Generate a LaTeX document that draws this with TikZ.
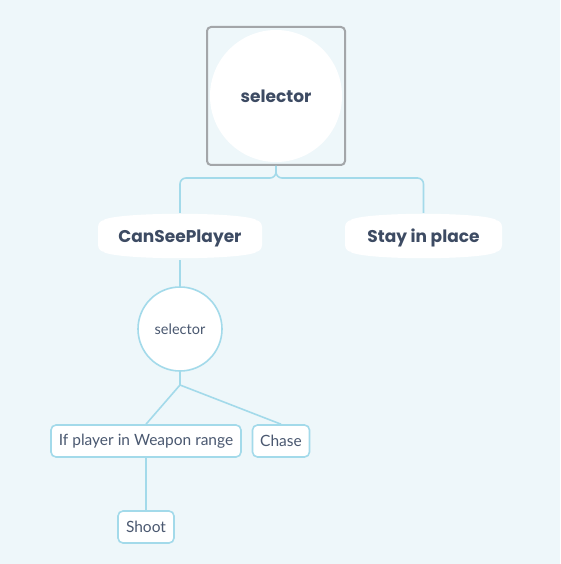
\documentclass[tikz,border=0pt]{standalone}
\usepackage{fontspec}
\setmainfont{Lato}
\newfontfamily\headfont{Poppins}
\usetikzlibrary{calc}

\definecolor{bgblue}{HTML}{EEF7FA}
\definecolor{edgeblue}{HTML}{A3DAEA}
\definecolor{boxgray}{HTML}{A3A6A9}
\definecolor{inkdark}{HTML}{3D4B63}
\definecolor{inksoft}{HTML}{4A5870}

\tikzset{
    topbox/.style={draw=boxgray, line width=2pt, rounded corners=4pt, minimum size=138pt},
    bigdisc/.style={circle, fill=white, minimum size=132pt, inner sep=0pt, text=inkdark,
        font=\headfont\bfseries\fontsize{17}{20}\selectfont},
    pill/.style={fill=white, rounded corners=7pt, minimum width=164pt, minimum height=32pt,
        inner sep=0pt, text depth=0pt, text=inkdark, font=\headfont\bfseries\fontsize{17}{20}\selectfont},
    ring/.style={circle, draw=edgeblue, fill=white, line width=1.6pt, minimum size=84pt,
        inner sep=0pt, text=inksoft, font=\fontsize{14.5}{17}\selectfont},
    leaf/.style={draw=edgeblue, fill=white, line width=1.6pt, rounded corners=5pt,
        minimum height=32pt, inner sep=0pt, text=inksoft, font=\fontsize{15.5}{18}\selectfont},
    link/.style={draw=edgeblue, line width=1.6pt}
}

\begin{document}
\begin{tikzpicture}[x=1pt, y=-1pt]
            \fill[bgblue] (0,0) rectangle (560,564);
            \useasboundingbox (0,0) rectangle (560,564);
            % root
            \node[topbox] (rootbox) at (276,96) {};
            \node[bigdisc] (root) at (276,96) {selector};
            % first level
            \node[pill] (cansee) at (180,236) {CanSeePlayer};
            \node[pill, minimum width=157pt] (stay) at (423.5,236) {Stay in place};
            \foreach \n in {cansee, stay} {
                \fill[white] ([xshift=6pt]\n.north west) .. controls ([xshift=22pt, yshift=8pt]\n.north west)
                    and ([xshift=-22pt, yshift=8pt]\n.north east) .. ([xshift=-6pt]\n.north east) -- cycle;
                \fill[white] ([xshift=6pt]\n.south west) .. controls ([xshift=22pt, yshift=-8pt]\n.south west)
                    and ([xshift=-22pt, yshift=-8pt]\n.south east) .. ([xshift=-6pt]\n.south east) -- cycle;
            }
            % second level
            \node[ring] (sel) at (180,329) {selector};
            \coordinate (fork) at (180,385);
            \node[leaf, minimum width=190pt] (inrange) at (146,441) {If player in Weapon range};
            \node[leaf, minimum width=57pt] (chase) at (281,441) {Chase};
            \node[leaf, minimum width=56pt] (shoot) at (146,527) {Shoot};
            % connectors
            \draw[link, rounded corners=6pt] (rootbox.south) -- ++(0,12) -| ([yshift=7pt]cansee.north);
            \draw[link, rounded corners=6pt] (rootbox.south) -- ++(0,12) -| ([yshift=7pt]stay.north);
            \draw[link] ([yshift=-8pt]cansee.south) -- (sel.north);
            \draw[link] (sel.south) -- (fork);
            \draw[link] (fork) -- (inrange.north);
            \draw[link] (fork) -- (chase.north);
            \draw[link] (inrange.south) -- (shoot.north);
        \end{tikzpicture}
\end{document}
